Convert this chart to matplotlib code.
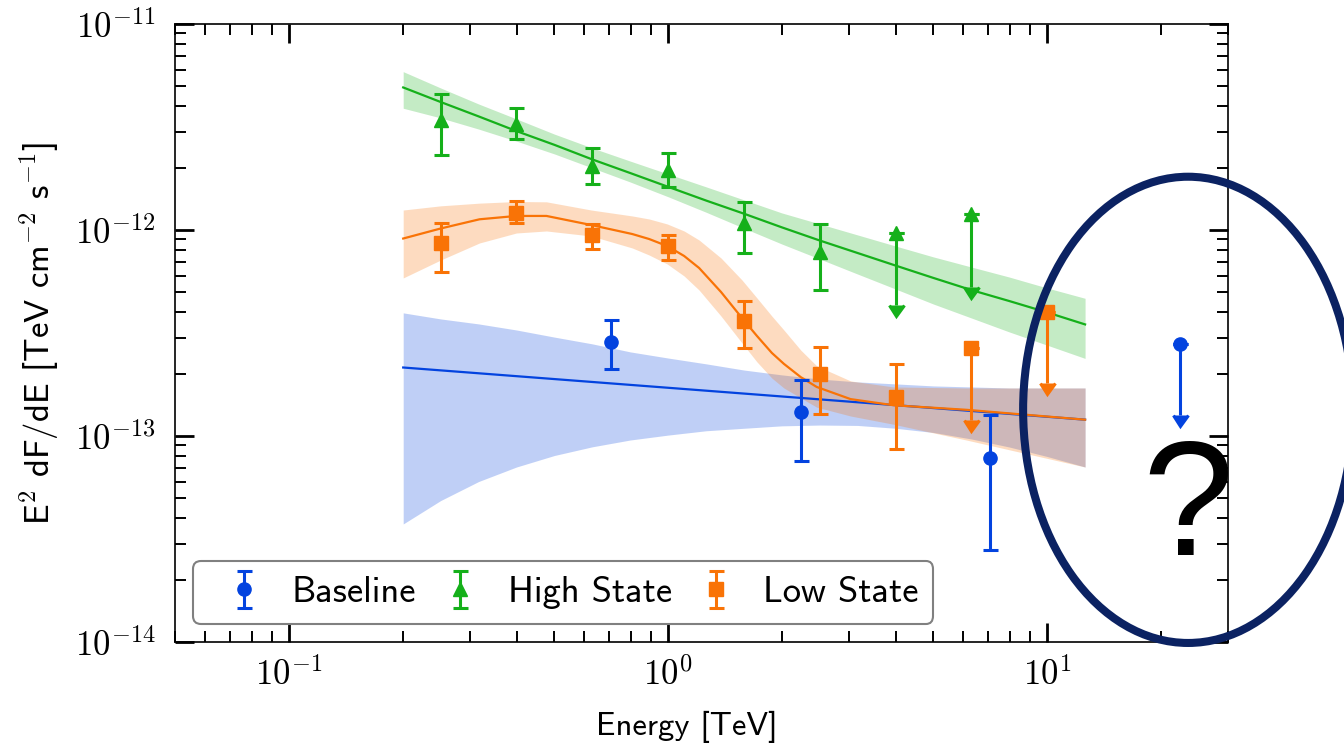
import numpy as np
import matplotlib
matplotlib.use('Agg')
import matplotlib.pyplot as plt
from matplotlib.patches import Ellipse
from matplotlib.ticker import FixedLocator, LogLocator, FuncFormatter, NullFormatter

plt.rcParams['font.family'] = ['cmss10', 'DejaVu Sans']
plt.rcParams['mathtext.fontset'] = 'cm'
plt.rcParams['axes.unicode_minus'] = False

blue, green, orange = '#0343df', '#15b01a', '#f97306'

# flux points: energy [TeV], E^2 dF/dE, bar low / high end, upper limit flag
base_E = [0.708, 2.239, 7.079, 22.39]
base_F = [2.87e-13, 1.31e-13, 7.79e-14, 2.80e-13]
base_lo = [2.11e-13, 7.59e-14, 2.80e-14, 1.26e-13]
base_hi = [3.66e-13, 1.87e-13, 1.26e-13, 2.80e-13]
base_ul = [False, False, False, True]

high_E = [0.251, 0.398, 0.631, 1.0, 1.585, 2.512, 3.981, 6.31]
high_F = [3.42e-12, 3.27e-12, 2.05e-12, 1.95e-12, 1.08e-12, 7.85e-13, 9.7e-13, 1.20e-12]
high_lo = [2.31e-12, 2.77e-12, 1.67e-12, 1.62e-12, 7.7e-13, 5.1e-13, 4.32e-13, 5.3e-13]
high_hi = [4.56e-12, 3.90e-12, 2.49e-12, 2.36e-12, 1.37e-12, 1.07e-12, 9.7e-13, 1.20e-12]
high_ul = [False, False, False, False, False, False, True, True]

low_E = [0.251, 0.398, 0.631, 1.0, 1.585, 2.512, 3.981, 6.31, 10.0]
low_F = [8.6e-13, 1.205e-12, 9.46e-13, 8.36e-13, 3.62e-13, 2.01e-13, 1.55e-13, 2.67e-13, 4.01e-13]
low_lo = [6.25e-13, 1.08e-12, 8.1e-13, 7.15e-13, 2.67e-13, 1.28e-13, 8.62e-14, 1.20e-13, 1.81e-13]
low_hi = [1.08e-12, 1.38e-12, 1.07e-12, 9.46e-13, 4.52e-13, 2.71e-13, 2.24e-13, 2.67e-13, 4.01e-13]
low_ul = [False, False, False, False, False, False, False, True, True]

grid_E = [0.2, 0.2512, 0.3162, 0.3981, 0.5012, 0.631, 0.7943, 1.0, 1.259, 1.585,
          1.995, 2.512, 3.162, 3.981, 5.012, 6.31, 7.943, 10.0, 12.59]

base_line_E = [0.2, 12.59]
base_line = [2.15e-13, 1.20e-13]
base_band_hi = [3.96e-13, 3.70e-13, 3.50e-13, 3.27e-13, 3.02e-13, 2.80e-13, 2.56e-13, 2.39e-13, 2.24e-13, 2.09e-13,
                1.98e-13, 1.89e-13, 1.83e-13, 1.79e-13, 1.75e-13, 1.73e-13, 1.71e-13, 1.71e-13, 1.71e-13]
base_band_lo = [3.74e-14, 4.86e-14, 6.01e-14, 7.07e-14, 8.04e-14, 8.86e-14, 9.56e-14, 1.01e-13, 1.06e-13, 1.09e-13,
                1.12e-13, 1.13e-13, 1.125e-13, 1.09e-13, 1.04e-13, 9.67e-14, 8.84e-14, 7.95e-14, 7.07e-14]

high_line = [4.92e-12, 4.18e-12, 3.56e-12, 3.02e-12, 2.59e-12, 2.20e-12, 1.89e-12, 1.62e-12, 1.39e-12, 1.20e-12,
             1.03e-12, 8.89e-13, 7.73e-13, 6.72e-13, 5.85e-13, 5.11e-13, 4.52e-13, 3.98e-13, 3.48e-13]
high_band_hi = [5.87e-12, 4.89e-12, 4.09e-12, 3.46e-12, 2.92e-12, 2.50e-12, 2.16e-12, 1.87e-12, 1.62e-12, 1.40e-12,
                1.21e-12, 1.07e-12, 9.46e-13, 8.36e-13, 7.40e-13, 6.61e-13, 5.91e-13, 5.23e-13, 4.66e-13]
high_band_lo = [3.90e-12, 3.50e-12, 3.09e-12, 2.70e-12, 2.34e-12, 2.00e-12, 1.71e-12, 1.45e-12, 1.22e-12, 1.02e-12,
                8.55e-13, 7.23e-13, 6.11e-13, 5.17e-13, 4.37e-13, 3.74e-13, 3.20e-13, 2.76e-13, 2.38e-13]

# low state curve bends sharply, so it is read at more energies
low_line_E = [0.2, 0.2512, 0.318, 0.398, 0.4775, 0.627, 0.804, 0.891, 0.994, 1.102, 1.207,
              1.379, 1.566, 1.715, 1.878, 2.02, 2.239, 2.466, 3.03, 3.933, 6.12, 12.59]
low_line = [9.09e-13, 1.017e-12, 1.127e-12, 1.17e-12, 1.17e-12, 1.057e-12, 9.56e-13, 9.04e-13, 8.36e-13, 7.48e-13,
            6.54e-13, 5.00e-13, 3.74e-13, 3.06e-13, 2.53e-13, 2.24e-13, 1.93e-13, 1.73e-13, 1.51e-13, 1.41e-13,
            1.34e-13, 1.20e-13]
low_band_hi = [1.25e-12, 1.31e-12, 1.35e-12, 1.375e-12, 1.37e-12, 1.25e-12, 1.17e-12, 1.131e-12, 1.07e-12, 9.89e-13,
               8.94e-13, 7.31e-13, 5.72e-13, 4.68e-13, 3.82e-13, 3.27e-13, 2.61e-13, 2.19e-13, 1.85e-13, 1.73e-13,
               1.71e-13, 1.71e-13]
low_band_lo = [5.85e-13, 7.15e-13, 8.65e-13, 9.67e-13, 9.89e-13, 9.35e-13, 8.18e-13, 7.56e-13, 6.84e-13, 5.98e-13,
               5.11e-13, 3.82e-13, 2.83e-13, 2.29e-13, 1.91e-13, 1.71e-13, 1.53e-13, 1.38e-13, 1.25e-13, 1.14e-13,
               9.56e-14, 7.07e-14]

fig = plt.figure(figsize=(13.44, 7.52), dpi=100)
ax = fig.add_axes([0.1302, 0.1463, 0.7835, 0.8218])

# bands
ax.fill_between(grid_E, base_band_lo, base_band_hi, color=blue, alpha=0.25, lw=0, zorder=1)
ax.fill_between(grid_E, high_band_lo, high_band_hi, color=green, alpha=0.25, lw=0, zorder=1)
ax.fill_between(low_line_E, low_band_lo, low_band_hi, color=orange, alpha=0.25, lw=0, zorder=1)

# model lines
ax.plot(base_line_E, base_line, color=blue, lw=1.6, zorder=2)
ax.plot(grid_E, high_line, color=green, lw=1.6, zorder=2)
ax.plot(low_line_E, low_line, color=orange, lw=1.6, zorder=2)


def draw_points(E, F, lo, hi, ul, color, marker, label):
    E, F, lo, hi, ul = map(np.asarray, (E, F, lo, hi, ul))
    ax.errorbar(E, F, yerr=[F - lo, hi - F], uplims=ul, fmt=marker, color=color,
                ms=9.5, elinewidth=2.2, capsize=5.4, capthick=2.2, label=label, zorder=5)
    # cap at the value of each upper limit
    ax.plot(E[ul], F[ul], ls='none', marker='_', ms=10.8, mew=2.2, color=color, zorder=5)


draw_points(base_E, base_F, base_lo, base_hi, base_ul, blue, 'o', 'Baseline')
draw_points(high_E, high_F, high_lo, high_hi, high_ul, green, '^', 'High State')
draw_points(low_E, low_F, low_lo, low_hi, low_ul, orange, 's', 'Low State')

ax.set_xscale('log')
ax.set_yscale('log')
ax.set_xlim(0.05, 30)
ax.set_ylim(1e-14, 1e-11)

dec_fmt = FuncFormatter(lambda v, pos: r'$10^{%d}$' % int(round(np.log10(v))))
ax.xaxis.set_major_locator(FixedLocator([0.1, 1, 10]))
ax.yaxis.set_major_locator(FixedLocator([1e-14, 1e-13, 1e-12, 1e-11]))
for axis in (ax.xaxis, ax.yaxis):
    axis.set_minor_locator(LogLocator(base=10, subs=np.arange(2, 10), numticks=50))
    axis.set_major_formatter(dec_fmt)
    axis.set_minor_formatter(NullFormatter())

ax.tick_params(which='both', direction='in', top=True, right=True)
ax.tick_params(which='major', length=14, width=2)
ax.tick_params(which='minor', length=8, width=1.4)
ax.tick_params(axis='x', which='major', pad=11, labelsize=25)
ax.tick_params(axis='y', which='major', pad=14, labelsize=25)
for s in ax.spines.values():
    s.set_linewidth(1.2)

ax.set_xlabel('Energy [TeV]', fontsize=23.5)
ax.xaxis.set_label_coords(0.486, -0.112)
ax.set_ylabel(r'E$^2$ dF/dE [TeV cm$^{-2}$ s$^{-1}$]', fontsize=25, labelpad=10)

leg = ax.legend(loc='lower left', ncol=3, fontsize=26.3, handlelength=2, handletextpad=0.3,
                columnspacing=0.2, borderpad=0.4, fancybox=True, framealpha=1)
leg.get_frame().set_edgecolor('0.5')
leg.get_frame().set_linewidth(1.5)

# question annotation
fig.add_artist(Ellipse((0.884, 0.455), 0.2455, 0.62, transform=fig.transFigure,
                       fill=False, edgecolor='#0b2262', lw=5.8, zorder=10))
fig.text(0.884, 0.262, '?', fontsize=118, family='Liberation Sans', ha='center', va='baseline')

fig.savefig('out.png', dpi=100)
